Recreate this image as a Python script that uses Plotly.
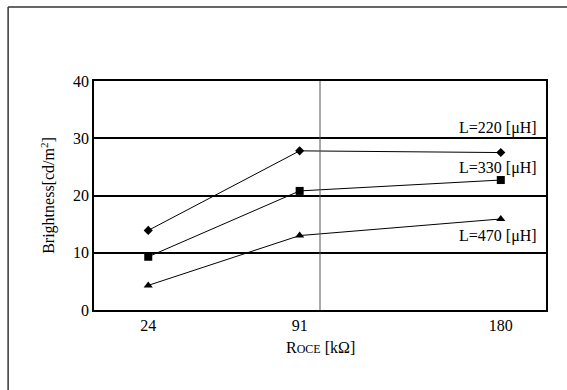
import plotly.graph_objects as go

roce = [24, 91, 180]
tick_labels = ["24", "91", "180"]
l220 = [13.9, 27.8, 27.5]
l330 = [9.3, 20.8, 22.7]
l470 = [4.3, 13.0, 15.9]
series_names = ["L=220 [μH]", "L=330 [μH]", "L=470 [μH]"]
label_y = [31.8, 24.8, 12.9]

FONT = "Liberation Serif, Times New Roman, serif"

fig = go.Figure()
symbols = ["diamond", "square", "triangle-up"]
sizes = [7, 8, 8]
for vals, name, sym, sz in zip([l220, l330, l470], series_names, symbols, sizes):
    fig.add_trace(go.Scatter(
        x=roce, y=vals, mode="lines+markers", name=name,
        line=dict(color="black", width=1),
        marker=dict(symbol=sym, size=sz, color="black"),
        showlegend=False,
    ))

for name, yy in zip(series_names, label_y):
    fig.add_annotation(x=0.985, xref="paper", y=yy, yref="y", text=name,
                       showarrow=False, xanchor="right", yanchor="middle",
                       font=dict(family=FONT, size=16, color="black"))

# x axis title as annotation
fig.add_annotation(x=0.5, xref="paper", y=-0.163, yref="paper",
                   text="R<span style='font-size:12px'>OCE</span> [kΩ]",
                   showarrow=False, xanchor="center", yanchor="middle",
                   font=dict(family=FONT, size=16, color="black"))

# vertical gray gridline at x=100
fig.add_shape(type="line", xref="x", yref="paper", x0=100, x1=100, y0=0, y1=1,
              line=dict(color="#555555", width=1))

# outer frame (left and top edges visible)
fig.add_shape(type="line", xref="paper", yref="paper",
              x0=-0.190, x1=-0.190, y0=-0.6, y1=1.323,
              line=dict(color="#333333", width=1.5))
fig.add_shape(type="line", xref="paper", yref="paper",
              x0=-0.190, x1=1.2, y0=1.323, y1=1.323,
              line=dict(color="#333333", width=1.5))

fig.update_layout(
    width=567, height=390,
    margin=dict(l=94, r=21, t=81, b=80),
    paper_bgcolor="white", plot_bgcolor="white",
    font=dict(family=FONT, size=16, color="black"),
    xaxis=dict(
        range=[0, 200], tickmode="array", tickvals=roce, ticktext=tick_labels,
        showgrid=False, showline=True, linecolor="black", linewidth=1.5, mirror=True,
        ticks="", zeroline=False, tickfont=dict(size=16),
    ),
    yaxis=dict(
        range=[0, 40], tickmode="array", tickvals=[0, 10, 20, 30, 40],
        showgrid=True, gridcolor="black", gridwidth=1.5,
        showline=True, linecolor="black", linewidth=1.5, mirror=True,
        ticks="", zeroline=False, tickfont=dict(size=16),
        title=dict(text="Brightness[cd/m<sup>2</sup>]",
                   font=dict(family=FONT, size=16), standoff=14),
    ),
)

fig.write_html("out.html")
